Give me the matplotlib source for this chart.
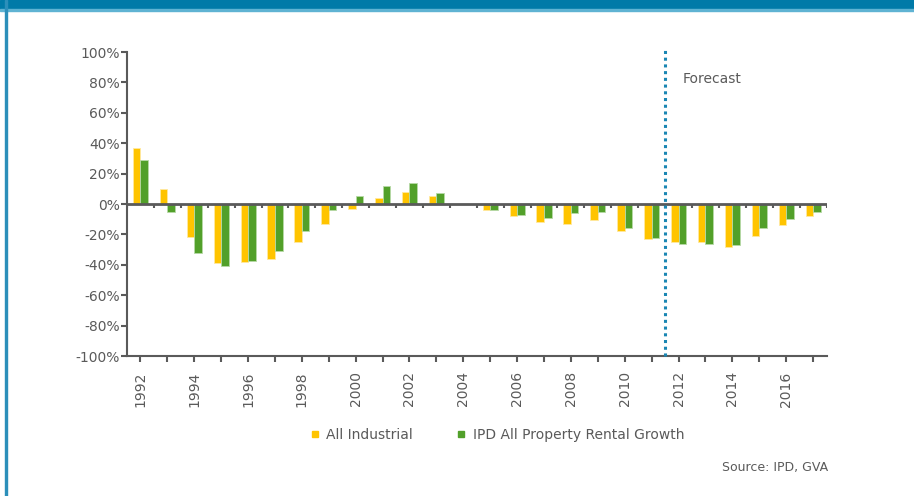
import numpy as np
import matplotlib
matplotlib.use("Agg")
import matplotlib.pyplot as plt
from matplotlib.lines import Line2D
from matplotlib.patches import Rectangle

# data (% rental growth)
years = list(range(1992, 2018))
all_industrial = [37, 10, -22, -39, -38, -36, -25, -13, -3, 4, 8, 5, 0,
                  -4, -8, -12, -13, -10.5, -17.5, -23, -25, -25, -28, -21, -13.5, -8]
ipd_all_property = [29, -5, -32, -41, -37.5, -31, -17.5, -4, 5, 12, 14, 7, 0,
                    -4, -7, -9, -6, -5, -16, -22.5, -26, -26.5, -27, -16, -10, -5.5]
series_names = ["All Industrial", "IPD All Property Rental Growth"]
forecast_from = 2012

yellow = "#FFC400"
green = "#52A02A"
grey = "#5A5A5A"
blue = "#1A86B3"

plt.rcParams['font.family'] = ['DejaVu Sans']

fig = plt.figure(figsize=(9.14, 4.96), dpi=100)
ax = fig.add_axes([127 / 914, 1 - 356 / 496, 699.5 / 914, 304 / 496])

x = np.arange(len(years))
w = 0.28
ax.bar(x - w / 2, all_industrial, w, color=yellow, edgecolor="#FFE9A0", linewidth=0.6, zorder=2)
ax.bar(x + w / 2, ipd_all_property, w, color=green, edgecolor="#B7D9A6", linewidth=0.6, zorder=2)

ax.set_xlim(-0.5, len(years) - 0.5)
ax.set_ylim(-100, 100)
ax.set_yticks(range(-100, 101, 20))
ax.set_yticklabels([f"{v}%" for v in range(-100, 101, 20)])

# bottom axis: ticks at category centres, every other year labelled
ax.set_xticks(x)
ax.set_xticklabels([str(y) if (y - years[0]) % 2 == 0 else "" for y in years], rotation=90)

for s in ["top", "right"]:
    ax.spines[s].set_visible(False)
for s in ["left", "bottom"]:
    ax.spines[s].set_color(grey)
    ax.spines[s].set_linewidth(1.5)
ax.tick_params(axis="both", colors=grey, labelcolor=grey, labelsize=10,
               length=4, width=1.5, direction="out")
ax.tick_params(axis="x", pad=7)
ax.tick_params(axis="y", pad=1)

# zero line with small ticks below it, between categories
ax.axhline(0, color=grey, linewidth=2, zorder=3)
ax.vlines(np.arange(len(years) + 1) - 0.5, -2.8, 0, color=grey, linewidth=1.5, zorder=3)

# forecast divider
fx = years.index(forecast_from) - 0.5
ax.axvline(fx, ymin=0, ymax=1.01, color=blue, linestyle=(0, (1, 1.2)), linewidth=2.2,
           clip_on=False, zorder=4)
ax.text(fx + 0.67, 82, "Forecast", color=grey, fontsize=10, va="center", ha="left")

# legend
handles = [Line2D([], [], marker="s", linestyle="", color=yellow, markersize=5),
           Line2D([], [], marker="s", linestyle="", color=green, markersize=5)]
fig.legend(handles, series_names, loc="center", bbox_to_anchor=(496 / 914, 1 - 435 / 496),
           ncol=2, frameon=False, fontsize=10, labelcolor=grey, handletextpad=0.3,
           columnspacing=3.0, handlelength=1.0)

fig.text(828 / 914, 1 - 467 / 496, "Source: IPD, GVA", color=grey, fontsize=9,
         ha="right", va="center")

# frame: top band and left border
fig.patches.append(Rectangle((0, 1 - 9 / 496), 1, 9 / 496, transform=fig.transFigure,
                             color="#007AA8", zorder=0))
fig.patches.append(Rectangle((0, 1 - 10.5 / 496), 1, 1.5 / 496, transform=fig.transFigure,
                             color="#5FB3D3", zorder=0))
fig.patches.append(Rectangle((5 / 914, 0), 2 / 914, 1, transform=fig.transFigure,
                             color="#2C8FBA", zorder=0))

fig.savefig("out.png", dpi=100, facecolor="white")
